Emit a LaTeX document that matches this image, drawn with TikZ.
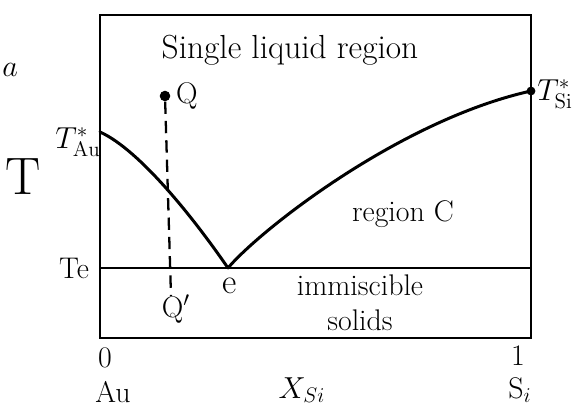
\documentclass[tikz,border=0pt]{standalone}
\usetikzlibrary{positioning}

\begin{document}
\begin{tikzpicture}[
		x=0.02cm, y=-0.02cm,
		lbl/.style={inner sep=0pt, font=\fontsize{17}{20}\selectfont},
		big/.style={inner sep=0pt, font=\fontsize{30}{34}\selectfont},
		curve/.style={line width=1.7pt, line cap=round},
		frame/.style={line width=1.3pt},
		dot/.style={circle, fill, inner sep=0pt, minimum size=6pt},
	]
	\useasboundingbox (0,0) rectangle (579,412);

	% frame of the diagram
	\coordinate (tl) at (100,15);
	\coordinate (br) at (531,338);
	\draw[frame] (tl) rectangle (br);

	% eutectic line
	\coordinate (teL) at (100,268);
	\coordinate (teR) at (531,268);
	\draw[frame] (teL) -- (teR);

	% liquidus curves
	\coordinate (tau) at (100,132);
	\coordinate (eut) at (228,268);
	\node[dot, minimum size=5pt] (tsi) at (531,91) {};
	\draw[curve] (tau) .. controls (140,150) and (195,220) .. (eut);
	\draw[curve] (eut) .. controls (260,230) and (400,120) .. (tsi.center);

	% cooling path Q -> Q'
	\node[dot] (q) at (165,96) {};
	\coordinate (qend) at (171,296);
	\draw[line width=1.3pt, dashed, dash pattern=on 7pt off 4pt] (q) -- (qend);

	% labels
	\node[lbl, anchor=west] (frag) at (2,70) {$a$};
	\node[big] (taxis) at (23,177) {T};
	\node[lbl] (tauLbl) at (78,142) {$T^{\ast}_{\mathrm{Au}}$};
	\node[lbl] (tsiLbl) at (555,94) {$T^{\ast}_{\mathrm{Si}}$};
	\node[lbl] (teLbl) at (74,268) {Te};
	\node[lbl, font=\fontsize{20}{24}\selectfont] (eLbl) at (230,286) {e};
	\node[lbl, right=3pt of q] (qLbl) {Q};
	\node[lbl] (qpLbl) at (176,309) {Q$'$};
	\node[lbl, font=\fontsize{19}{22}\selectfont] (liq) at (290,50) {Single liquid region};
	\node[lbl] (regc) at (403,214) {region C};
	\node[lbl, align=center] (solid) at (360,303) {immiscible\\solids};
	\node[lbl] (zero) at (105,358) {0};
	\node[lbl] (one) at (518,356) {1};
	\node[lbl] (au) at (113,392) {Au};
	\node[lbl] (si) at (520,390) {S$_i$};
	\node[lbl] (xsi) at (302,390) {$X_{Si}$};
\end{tikzpicture}
\end{document}
